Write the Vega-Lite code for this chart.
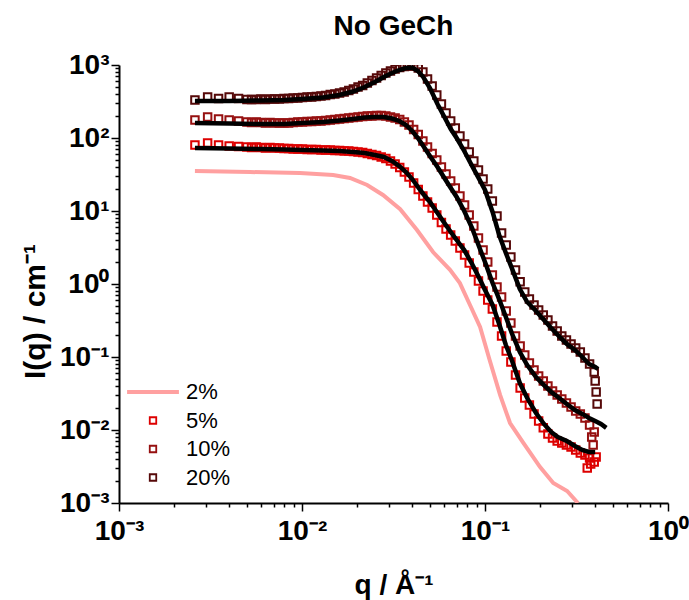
{
  "$schema": "https://vega.github.io/schema/vega-lite/v6.json",
  "width": 549,
  "height": 438,
  "autosize": {"type": "none"},
  "padding": {"left": 119, "top": 65, "right": 21, "bottom": 97},
  "background": "white",
  "config": {"view": {"stroke": null}, "font": "Liberation Sans"},
  "title": {"text": "No GeCh", "font": "Liberation Sans", "fontSize": 28, "fontWeight": "bold", "color": "black", "anchor": "middle", "frame": "group", "baseline": "alphabetic", "offset": 28, "dy": 40},
  "datasets": {
    "low": [
      {"q": 0.0026, "2%": 35.3}, {"q": 0.0052, "2%": 34.2}, {"q": 0.00975, "2%": 33.2}, {"q": 0.0148, "2%": 31.1},
      {"q": 0.0183, "2%": 28.3}, {"q": 0.0227, "2%": 22.7}, {"q": 0.0277, "2%": 16.6}, {"q": 0.0344, "2%": 10.6},
      {"q": 0.0425, "2%": 5.49}, {"q": 0.052, "2%": 2.74}, {"q": 0.0644, "2%": 1.56}, {"q": 0.0729, "2%": 1.03},
      {"q": 0.0828, "2%": 0.515}, {"q": 0.094, "2%": 0.258}, {"q": 0.106, "2%": 0.091}, {"q": 0.121, "2%": 0.0301},
      {"q": 0.137, "2%": 0.01247}, {"q": 0.162, "2%": 0.00664}, {"q": 0.2, "2%": 0.00311}, {"q": 0.236, "2%": 0.00188},
      {"q": 0.281, "2%": 0.00146}, {"q": 0.322, "2%": 0.001}
    ],
    "measured": [
      {"q": 0.0026, "5%": 80.2, "10%": 176.5, "20%": 331.6},
      {"q": 0.00305, "5%": 85.4, "10%": 194.0, "20%": 364.5},
      {"q": 0.0035, "5%": 80.2, "10%": 182.1, "20%": 347.7},
      {"q": 0.004, "5%": 77.7, "10%": 176.5, "20%": 364.5},
      {"q": 0.0045, "5%": 76.5, "10%": 171.0, "20%": 347.7},
      {"q": 0.005, "5%": 75.3, "10%": 165.6, "20%": 336.9},
      {"q": 0.0053, "5%": 74.1, "10%": 163.1, "20%": 336.9},
      {"q": 0.00562, "5%": 75.3, "10%": 165.6, "20%": 336.9},
      {"q": 0.00596, "5%": 74.1, "10%": 163.1, "20%": 342.2},
      {"q": 0.00631, "5%": 72.9, "10%": 160.6, "20%": 336.9},
      {"q": 0.00669, "5%": 74.1, "10%": 163.1, "20%": 342.2},
      {"q": 0.00709, "5%": 72.9, "10%": 160.6, "20%": 342.2},
      {"q": 0.00752, "5%": 72.9, "10%": 160.6, "20%": 342.2},
      {"q": 0.00797, "5%": 71.8, "10%": 160.6, "20%": 347.7},
      {"q": 0.00845, "5%": 71.8, "10%": 160.6, "20%": 347.7},
      {"q": 0.00895, "5%": 70.7, "10%": 163.1, "20%": 353.2},
      {"q": 0.00949, "5%": 70.7, "10%": 165.6, "20%": 353.2},
      {"q": 0.01006, "5%": 70.7, "10%": 165.6, "20%": 358.8},
      {"q": 0.01066, "5%": 69.6, "10%": 168.3, "20%": 364.5},
      {"q": 0.0113, "5%": 69.6, "10%": 168.3, "20%": 364.5},
      {"q": 0.01198, "5%": 69.6, "10%": 171.0, "20%": 370.3},
      {"q": 0.0127, "5%": 68.5, "10%": 171.0, "20%": 376.2},
      {"q": 0.01346, "5%": 68.5, "10%": 173.6, "20%": 382.2},
      {"q": 0.01427, "5%": 68.5, "10%": 176.5, "20%": 394.5},
      {"q": 0.01512, "5%": 67.4, "10%": 179.2, "20%": 400.8},
      {"q": 0.01604, "5%": 67.4, "10%": 182.1, "20%": 413.6},
      {"q": 0.017, "5%": 66.4, "10%": 185.0, "20%": 426.7},
      {"q": 0.01802, "5%": 66.4, "10%": 187.9, "20%": 447.4},
      {"q": 0.0191, "5%": 65.3, "10%": 190.9, "20%": 469.1},
      {"q": 0.02024, "5%": 64.3, "10%": 194.0, "20%": 499.5},
      {"q": 0.02146, "5%": 63.3, "10%": 197.0, "20%": 523.8},
      {"q": 0.02275, "5%": 61.3, "10%": 200.1, "20%": 566.8},
      {"q": 0.02411, "5%": 59.4, "10%": 200.1, "20%": 613.4},
      {"q": 0.02556, "5%": 57.6, "10%": 203.4, "20%": 663.6},
      {"q": 0.02709, "5%": 54.9, "10%": 203.4, "20%": 718.1},
      {"q": 0.02872, "5%": 52.4, "10%": 200.1, "20%": 777.0},
      {"q": 0.03044, "5%": 48.4, "10%": 194.0, "20%": 827.6},
      {"q": 0.03227, "5%": 44.0, "10%": 187.9, "20%": 881.5},
      {"q": 0.0342, "5%": 39.4, "10%": 179.2, "20%": 924.2},
      {"q": 0.03626, "5%": 34.2, "10%": 165.6, "20%": 954.0},
      {"q": 0.03843, "5%": 29.2, "10%": 150.7, "20%": 969},
      {"q": 0.04074, "5%": 24.2, "10%": 130.7, "20%": 969},
      {"q": 0.04318, "5%": 19.7, "10%": 111.7, "20%": 909.7},
      {"q": 0.04577, "5%": 16.1, "10%": 91.0, "20%": 802.0},
      {"q": 0.04852, "5%": 13.3, "10%": 75.3, "20%": 643.0},
      {"q": 0.05143, "5%": 11.0, "10%": 61.3, "20%": 515.6},
      {"q": 0.05451, "5%": 8.81, "10%": 49.9, "20%": 388.2},
      {"q": 0.05778, "5%": 6.96, "10%": 40.1, "20%": 292.3},
      {"q": 0.06125, "5%": 5.67, "10%": 32.1, "20%": 220.1},
      {"q": 0.06492, "5%": 4.69, "10%": 25.8, "20%": 171.0},
      {"q": 0.06882, "5%": 3.88, "10%": 20.7, "20%": 137.1},
      {"q": 0.07295, "5%": 3.11, "10%": 16.1, "20%": 106.5},
      {"q": 0.07733, "5%": 2.50, "10%": 12.1, "20%": 82.8},
      {"q": 0.08197, "5%": 1.94, "10%": 8.81, "20%": 64.3},
      {"q": 0.08688, "5%": 1.46, "10%": 6.23, "20%": 48.4},
      {"q": 0.0921, "5%": 1.10, "10%": 4.27, "20%": 36.4},
      {"q": 0.0976, "5%": 0.802, "10%": 2.92, "20%": 27.4},
      {"q": 0.1035, "5%": 0.604, "10%": 2.00, "20%": 20.0},
      {"q": 0.1097, "5%": 0.455, "10%": 1.33, "20%": 13.7},
      {"q": 0.1163, "5%": 0.302, "10%": 0.910, "20%": 8.54},
      {"q": 0.1232, "5%": 0.194, "10%": 0.664, "20%": 5.00},
      {"q": 0.1306, "5%": 0.121, "10%": 0.427, "20%": 3.42},
      {"q": 0.1385, "5%": 0.0854, "10%": 0.292, "20%": 2.34},
      {"q": 0.1468, "5%": 0.0567, "10%": 0.194, "20%": 1.56},
      {"q": 0.1556, "5%": 0.0376, "10%": 0.1415, "20%": 1.07},
      {"q": 0.1649, "5%": 0.0274, "10%": 0.1065, "20%": 0.777},
      {"q": 0.1748, "5%": 0.0220, "10%": 0.0827, "20%": 0.623},
      {"q": 0.1853, "5%": 0.0166, "10%": 0.0664, "20%": 0.516},
      {"q": 0.1964, "5%": 0.0133, "10%": 0.0549, "20%": 0.440},
      {"q": 0.2082, "5%": 0.0107, "10%": 0.0469, "20%": 0.376},
      {"q": 0.2207, "5%": 0.00882, "10%": 0.0401, "20%": 0.321},
      {"q": 0.2339, "5%": 0.00777, "10%": 0.0342, "20%": 0.266},
      {"q": 0.248, "5%": 0.00707, "10%": 0.0302, "20%": 0.227},
      {"q": 0.2628, "5%": 0.00664, "10%": 0.0266, "20%": 0.194},
      {"q": 0.2786, "5%": 0.00623, "10%": 0.0234, "20%": 0.171},
      {"q": 0.2953, "5%": 0.00585, "10%": 0.0207, "20%": 0.151},
      {"q": 0.313, "5%": 0.00532, "10%": 0.0182, "20%": 0.133},
      {"q": 0.3318, "5%": 0.00484, "10%": 0.0166, "20%": 0.117},
      {"q": 0.3517, "5%": 0.00454, "10%": 0.0146, "20%": 0.0969},
      {"q": 0.362, "5%": 0.00302},
      {"q": 0.3728, "5%": 0.00413, "10%": 0.0117, "20%": 0.0802},
      {"q": 0.378, "5%": 0.00342},
      {"q": 0.383, "10%": 0.00802},
      {"q": 0.39, "10%": 0.00623},
      {"q": 0.3952, "5%": 0.00364, "10%": 0.00939, "20%": 0.0623},
      {"q": 0.4, "20%": 0.0469},
      {"q": 0.405, "5%": 0.00427, "20%": 0.0332},
      {"q": 0.41, "20%": 0.0227}
    ],
    "model": [
      {"q": 0.0026, "5%": 72.9, "10%": 160.6, "20%": 321.2},
      {"q": 0.004, "5%": 71.8, "10%": 158.0, "20%": 321.2},
      {"q": 0.006, "5%": 70.7, "10%": 155.5, "20%": 326.4},
      {"q": 0.008, "5%": 69.6, "10%": 155.5, "20%": 331.6},
      {"q": 0.01, "5%": 68.5, "10%": 160.6, "20%": 342.2},
      {"q": 0.013, "5%": 67.4, "10%": 165.6, "20%": 358.8},
      {"q": 0.016, "5%": 66.4, "10%": 173.6, "20%": 388.2},
      {"q": 0.019, "5%": 64.3, "10%": 182.1, "20%": 433.5},
      {"q": 0.022, "5%": 62.3, "10%": 190.9, "20%": 499.5},
      {"q": 0.025, "5%": 58.5, "10%": 194.0, "20%": 585.0},
      {"q": 0.028, "5%": 54.9, "10%": 194.0, "20%": 684.8},
      {"q": 0.031, "5%": 48.4, "10%": 185.0, "20%": 777.0},
      {"q": 0.034, "5%": 41.3, "10%": 171.0, "20%": 854.0},
      {"q": 0.037, "5%": 34.2, "10%": 150.7, "20%": 909.7},
      {"q": 0.04, "5%": 27.4, "10%": 124.7, "20%": 924.2},
      {"q": 0.043, "5%": 21.3, "10%": 100, "20%": 827.6},
      {"q": 0.046, "5%": 17.1, "10%": 77.7, "20%": 684.8},
      {"q": 0.05, "5%": 13.3, "10%": 56.7, "20%": 484.0},
      {"q": 0.055, "5%": 9.39, "10%": 40.1, "20%": 292.3},
      {"q": 0.06, "5%": 6.85, "10%": 28.3, "20%": 194.0},
      {"q": 0.065, "5%": 5.16, "10%": 20.7, "20%": 132.8},
      {"q": 0.07, "5%": 4.01, "10%": 15.6, "20%": 100},
      {"q": 0.077, "5%": 2.92, "10%": 10.0, "20%": 66.4},
      {"q": 0.085, "5%": 1.88, "10%": 5.85, "20%": 41.3},
      {"q": 0.093, "5%": 1.21, "10%": 3.21, "20%": 27.4},
      {"q": 0.1, "5%": 0.828, "10%": 2.00, "20%": 19.4},
      {"q": 0.11, "5%": 0.516, "10%": 1.03, "20%": 9.69},
      {"q": 0.12, "5%": 0.274, "10%": 0.604, "20%": 4.54},
      {"q": 0.13, "5%": 0.146, "10%": 0.353, "20%": 2.66},
      {"q": 0.14, "5%": 0.091, "10%": 0.213, "20%": 1.66},
      {"q": 0.155, "5%": 0.044, "10%": 0.117, "20%": 0.854},
      {"q": 0.17, "5%": 0.0274, "10%": 0.0777, "20%": 0.567},
      {"q": 0.19, "5%": 0.0171, "10%": 0.0532, "20%": 0.427},
      {"q": 0.21, "5%": 0.0121, "10%": 0.0413, "20%": 0.321},
      {"q": 0.23, "5%": 0.00939, "10%": 0.0332, "20%": 0.25},
      {"q": 0.25, "5%": 0.00802, "10%": 0.0283, "20%": 0.2},
      {"q": 0.28, "5%": 0.00707, "10%": 0.0227, "20%": 0.151},
      {"q": 0.31, "5%": 0.00604, "10%": 0.0188, "20%": 0.125},
      {"q": 0.34, "5%": 0.00532, "10%": 0.0166, "20%": 0.1},
      {"q": 0.37, "5%": 0.005, "10%": 0.0146, "20%": 0.0802},
      {"q": 0.4, "5%": 0.005, "10%": 0.0133, "20%": 0.0729},
      {"q": 0.415, "20%": 0.0685},
      {"q": 0.43, "10%": 0.0121},
      {"q": 0.46, "10%": 0.0107}
    ]
  },
  "encoding": {
    "x": {
      "field": "q",
      "type": "quantitative",
      "scale": {"type": "log", "domain": [0.001, 1]},
      "axis": {
        "title": "q / Å⁻¹",
        "values": [0.001, 0.002, 0.003, 0.004, 0.005, 0.006, 0.007, 0.008, 0.009, 0.01, 0.02, 0.03, 0.04, 0.05, 0.06, 0.07, 0.08, 0.09, 0.1, 0.2, 0.3, 0.4, 0.5, 0.6, 0.7, 0.8, 0.9, 1],
        "labelExpr": "datum.value == 0.001 ? '10⁻³' : datum.value == 0.01 ? '10⁻²' : datum.value == 0.1 ? '10⁻¹' : datum.value == 1 ? '10⁰' : ''",
        "labelOverlap": false,
        "labelFlush": false,
        "labelFont": "Liberation Sans",
        "labelFontSize": 28,
        "labelFontWeight": "bold",
        "labelColor": "black",
        "labelPadding": 6,
        "tickColor": "black",
        "tickWidth": 1.5,
        "tickSize": {"condition": {"test": "indexof([0.001, 0.01, 0.1, 1], datum.value) >= 0", "value": 8}, "value": 4},
        "domainColor": "black",
        "domainWidth": 2,
        "grid": false,
        "titleFont": "Liberation Sans",
        "titleFontSize": 28,
        "titleFontWeight": "bold",
        "titleColor": "black",
        "titleBaseline": "alphabetic",
        "titleY": 90
      }
    },
    "y": {
      "field": "I",
      "type": "quantitative",
      "scale": {"type": "log", "domain": [0.001, 1000]},
      "axis": {
        "title": "I(q) / cm⁻¹",
        "values": [0.001, 0.002, 0.003, 0.004, 0.005, 0.006, 0.007, 0.008, 0.009, 0.01, 0.02, 0.03, 0.04, 0.05, 0.06, 0.07, 0.08, 0.09, 0.1, 0.2, 0.3, 0.4, 0.5, 0.6, 0.7, 0.8, 0.9, 1, 2, 3, 4, 5, 6, 7, 8, 9, 10, 20, 30, 40, 50, 60, 70, 80, 90, 100, 200, 300, 400, 500, 600, 700, 800, 900, 1000],
        "labelExpr": "datum.value == 0.001 ? '10⁻³' : datum.value == 0.01 ? '10⁻²' : datum.value == 0.1 ? '10⁻¹' : datum.value == 1 ? '10⁰' : datum.value == 10 ? '10¹' : datum.value == 100 ? '10²' : datum.value == 1000 ? '10³' : ''",
        "labelOverlap": false,
        "labelFlush": false,
        "labelFont": "Liberation Sans",
        "labelFontSize": 28,
        "labelFontWeight": "bold",
        "labelColor": "black",
        "labelPadding": 2,
        "tickColor": "black",
        "tickWidth": 1.5,
        "tickSize": {"condition": {"test": "indexof([0.001, 0.01, 0.1, 1, 10, 100, 1000], datum.value) >= 0", "value": 8}, "value": 4},
        "domainColor": "black",
        "domainWidth": 2,
        "grid": false,
        "titleFont": "Liberation Sans",
        "titleFontSize": 30,
        "titleFontWeight": "bold",
        "titleColor": "black",
        "titleBaseline": "alphabetic",
        "titleX": -75,
        "titleY": 246
      }
    },
    "color": {
      "field": "s",
      "type": "nominal",
      "scale": {"domain": ["2%", "5%", "10%", "20%"], "range": ["#ffa0a0", "#dd0000", "#961010", "#560909"]},
      "legend": {
        "title": null,
        "orient": "none",
        "legendX": 23,
        "legendY": 316,
        "labelFont": "Liberation Sans",
        "labelFontSize": 22,
        "labelColor": "black",
        "labelOffset": 22,
        "symbolSize": 42,
        "symbolStrokeWidth": 1.6,
        "rowPadding": 6.5,
        "encode": {
          "symbols": {
            "update": {
              "shape": {"signal": "datum.value === '2%' ? 'M-8,0H8' : 'square'"},
              "strokeWidth": {"signal": "datum.value === '2%' ? 4 : 1.8"},
              "fill": {"value": "transparent"},
              "stroke": {"signal": "scale('color', datum.value)"}
            }
          }
        }
      }
    }
  },
  "layer": [
    {
      "data": {"name": "low"},
      "transform": [{"fold": ["2%"], "as": ["s", "I"]}],
      "mark": {"type": "line", "strokeWidth": 4, "clip": true}
    },
    {
      "data": {"name": "measured"},
      "transform": [{"fold": ["5%", "10%", "20%"], "as": ["s", "I"]}, {"filter": "isValid(datum.I)"}],
      "mark": {"type": "point", "shape": "square", "filled": false, "size": 56, "strokeWidth": 2, "opacity": 1, "clip": true}
    },
    {
      "data": {"name": "model"},
      "transform": [{"fold": ["5%", "10%", "20%"], "as": ["s", "I"]}, {"filter": "isValid(datum.I)"}],
      "mark": {"type": "line", "strokeWidth": 4.5, "clip": true},
      "encoding": {"color": {"value": "black"}, "detail": {"field": "s", "type": "nominal"}}
    }
  ]
}
